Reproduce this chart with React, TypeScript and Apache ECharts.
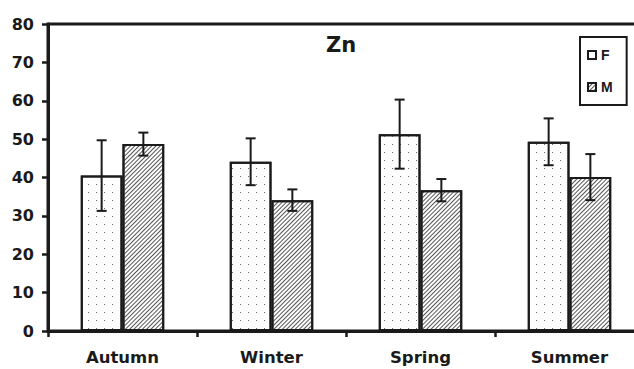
import React, { useEffect, useRef } from "react";
import * as echarts from "echarts";

const categories = ["Autumn", "Winter", "Spring", "Summer"];
const seriesNames = ["F", "M"];
const fMean = [40.5, 44.1, 51.3, 49.3];
const fSd = [9.2, 6.1, 9.0, 6.1];
const mMean = [48.7, 34.1, 36.7, 40.1];
const mSd = [3.0, 2.8, 2.9, 6.0];
const yTicks = [0, 10, 20, 30, 40, 50, 60, 70, 80];
const titleText = "Zn";

const INK = "#1a1a1a";
const BAR_FRAC = 0.28;

const dotDecal = {
  symbol: "rect",
  symbolSize: 1,
  color: "#666",
  dashArrayX: [1, 7],
  dashArrayY: [1, 7],
  rotation: 0,
};
const hatchDecal = {
  symbol: "rect",
  symbolSize: 1,
  color: "#555",
  dashArrayX: [1, 0],
  dashArrayY: [1, 2],
  rotation: -Math.PI / 4,
};

function errorSeries(name: string, means: number[], sds: number[], side: number) {
  return {
    type: "custom",
    name: name + " err",
    z: 5,
    silent: true,
    data: means.map((m, i) => [i, m, sds[i]]),
    encode: { x: 0, y: 1 },
    renderItem: (params: any, api: any) => {
      const idx = api.value(0);
      const mean = api.value(1);
      const sd = api.value(2);
      const band = api.size([1, 0])[0];
      const dx = side * band * BAR_FRAC * 0.5;
      const top = api.coord([idx, mean + sd]);
      const bot = api.coord([idx, mean - sd]);
      const x = top[0] + dx;
      const cap = 5;
      const style = { stroke: INK, lineWidth: 2 };
      return {
        type: "group",
        children: [
          { type: "line", shape: { x1: x, y1: top[1], x2: x, y2: bot[1] }, style },
          { type: "line", shape: { x1: x - cap, y1: top[1], x2: x + cap, y2: top[1] }, style },
          { type: "line", shape: { x1: x - cap, y1: bot[1], x2: x + cap, y2: bot[1] }, style },
        ],
      };
    },
  };
}

export default function App() {
  const ref = useRef<HTMLDivElement>(null);
  useEffect(() => {
    document.body.style.margin = "0";
    const chart = echarts.init(ref.current!, null, { renderer: "svg" });
    chart.setOption({
      animation: false,
      backgroundColor: "#fff",
      textStyle: { fontFamily: "DejaVu Sans", color: INK },
      grid: {
        left: 48,
        top: 24,
        width: 596,
        bottom: 38,
        show: true,
        borderColor: INK,
        borderWidth: 3,
        containLabel: false,
        outerBoundsMode: "none",
      },
      legend: {
        data: seriesNames,
        orient: "vertical",
        left: 580,
        top: 37,
        padding: [10, 14, 10, 7],
        itemGap: 16,
        itemWidth: 8,
        itemHeight: 8,
        icon: "rect",
        borderColor: INK,
        borderWidth: 2,
        backgroundColor: "#fff",
        textStyle: {
          fontFamily: "Liberation Sans",
          fontWeight: "bold",
          fontSize: 14,
          lineHeight: 16,
          color: INK,
        },
      },
      graphic: [
        {
          type: "text",
          x: 341,
          y: 45,
          style: {
            text: titleText,
            font: "bold 21px 'DejaVu Sans'",
            fill: INK,
            textAlign: "center",
            textVerticalAlign: "middle",
          },
        },
      ],
      xAxis: {
        type: "category",
        data: categories,
        boundaryGap: true,
        axisLine: { lineStyle: { color: INK, width: 3 } },
        axisTick: { show: true, length: 6, lineStyle: { color: INK, width: 2.5 } },
        axisLabel: {
          fontFamily: "DejaVu Sans",
          fontWeight: "bold",
          fontSize: 16.5,
          color: INK,
          margin: 18,
        },
        splitLine: { show: false },
      },
      yAxis: {
        type: "value",
        min: yTicks[0],
        max: yTicks[yTicks.length - 1],
        interval: 10,
        axisLine: { show: true, lineStyle: { color: INK, width: 3 } },
        axisTick: { show: true, length: 6, lineStyle: { color: INK, width: 2.5 } },
        axisLabel: {
          fontFamily: "DejaVu Sans",
          fontWeight: "bold",
          fontSize: 16,
          color: INK,
          margin: 14,
        },
        splitLine: { show: false },
      },
      series: [
        {
          type: "bar",
          name: seriesNames[0],
          data: fMean,
          barWidth: BAR_FRAC * 100 + "%",
          barGap: "0%",
          itemStyle: { color: "#fff", borderColor: INK, borderWidth: 2, decal: dotDecal },
        },
        {
          type: "bar",
          name: seriesNames[1],
          data: mMean,
          barWidth: BAR_FRAC * 100 + "%",
          barGap: "0%",
          itemStyle: { color: "#fff", borderColor: INK, borderWidth: 2, decal: hatchDecal },
        },
        errorSeries(seriesNames[0], fMean, fSd, -1),
        errorSeries(seriesNames[1], mMean, mSd, 1),
      ],
    });
    return () => chart.dispose();
  }, []);
  return (
    <div
      ref={ref}
      style={{ position: "absolute", left: 0, top: 0, width: 634, height: 369 }}
    />
  );
}
